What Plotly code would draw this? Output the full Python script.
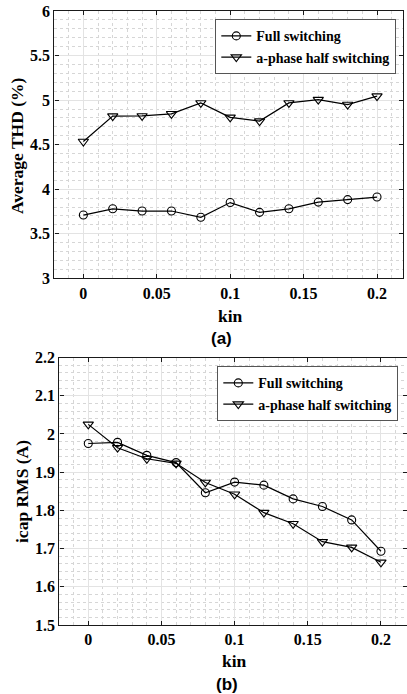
import plotly.graph_objects as go

# kin sweep
kin = [0, 0.02, 0.04, 0.06, 0.08, 0.10, 0.12, 0.14, 0.16, 0.18, 0.20]

# (a) average THD (%)
thd_full = [3.71, 3.78, 3.755, 3.755, 3.685, 3.85, 3.74, 3.78, 3.855, 3.883, 3.912]
thd_half = [4.535, 4.82, 4.822, 4.846, 4.968, 4.806, 4.764, 4.968, 5.005, 4.95, 5.045]

# (b) capacitor current RMS (A)
icap_full = [1.975, 1.978, 1.944, 1.925, 1.846, 1.874, 1.866, 1.830, 1.810, 1.775, 1.693]
icap_half = [2.025, 1.964, 1.935, 1.923, 1.873, 1.842, 1.794, 1.765, 1.718, 1.703, 1.664]

series_names = ["Full switching", "a-phase half switching"]

W, H = 407, 694
SERIF = "Liberation Serif"
SANS = "Liberation Sans"


def px_x(p):
    return p / W


def px_y(p):
    return 1 - p / H


fig = go.Figure()

line_style = dict(color="black", width=1.2)
circle = dict(symbol="circle-open", size=8, color="black", line=dict(width=1.1, color="black"))
tri = dict(symbol="triangle-down-open", size=9, color="black", line=dict(width=1.1, color="black"))

fig.add_trace(go.Scatter(x=kin, y=thd_full, mode="lines+markers", name=series_names[0],
                         line=line_style, marker=circle, xaxis="x", yaxis="y", legend="legend"))
fig.add_trace(go.Scatter(x=kin, y=thd_half, mode="lines+markers", name=series_names[1],
                         line=line_style, marker=tri, xaxis="x", yaxis="y", legend="legend"))
fig.add_trace(go.Scatter(x=kin, y=icap_full, mode="lines+markers", name=series_names[0],
                         line=line_style, marker=circle, xaxis="x2", yaxis="y2", legend="legend2"))
fig.add_trace(go.Scatter(x=kin, y=icap_half, mode="lines+markers", name=series_names[1],
                         line=line_style, marker=tri, xaxis="x2", yaxis="y2", legend="legend2"))

tickfont = dict(family=SERIF, size=16, color="black", weight="bold")
major_grid = "#e3e3e3"
minor_grid = "#d6d6d6"


def axis_common(rng, dtick, minor_dtick, tick0=0):
    return dict(
        range=rng, dtick=dtick, tick0=tick0,
        showline=True, linecolor="#1a1a1a", linewidth=1.4, mirror="ticks",
        ticks="inside", ticklen=4, tickwidth=1, tickcolor="#1a1a1a",
        showgrid=True, gridcolor=major_grid, gridwidth=1,
        minor=dict(dtick=minor_dtick, tick0=tick0, showgrid=True, gridcolor=minor_grid,
                   griddash="dot", gridwidth=1, ticks=""),
        zeroline=False, tickfont=tickfont, automargin=False,
    )


# panel geometry (pixels)
a_left, a_right, a_top, a_bot = 54.3, 403, 11, 278.3
b_left, b_right, b_top, b_bot = 59.3, 407, 357.5, 625

xa = axis_common([-0.0198, 0.2177], 0.05, 0.01)
xa.update(domain=[px_x(a_left), px_x(a_right)], anchor="y")
ya = axis_common([3, 6], 0.5, 0.1)
ya.update(domain=[px_y(a_bot), px_y(a_top)], anchor="x")

xb = axis_common([-0.0198, 0.2178], 0.05, 0.01)
xb.update(domain=[px_x(b_left), min(1.0, px_x(b_right))], anchor="y2")
yb = axis_common([1.5, 2.2], 0.1, 0.02, tick0=1.5)
yb.update(domain=[px_y(b_bot), px_y(b_top)], anchor="x2")

legend_style = dict(
    font=dict(family=SERIF, size=14, color="black", weight="bold"),
    bgcolor="white", bordercolor="#555", borderwidth=1.3,
    xanchor="right", yanchor="top", tracegroupgap=0, itemwidth=30,
)

title_font = dict(family=SERIF, size=17.5, color="black", weight="bold")
panel_font = dict(family=SANS, size=17, color="black", weight="bold")

annotations = [
    dict(text="kin", x=px_x(230), y=px_y(316), xref="paper", yref="paper",
         showarrow=False, font=title_font, xanchor="center", yanchor="middle"),
    dict(text="Average THD (%)", x=px_x(17), y=px_y(146), xref="paper", yref="paper",
         showarrow=False, font=title_font, textangle=-90, xanchor="center", yanchor="middle"),
    dict(text="(a)", x=px_x(222), y=px_y(338), xref="paper", yref="paper",
         showarrow=False, font=panel_font, xanchor="center", yanchor="middle"),
    dict(text="kin", x=px_x(235), y=px_y(661), xref="paper", yref="paper",
         showarrow=False, font=title_font, xanchor="center", yanchor="middle"),
    dict(text="icap RMS (A)", x=px_x(22), y=px_y(492), xref="paper", yref="paper",
         showarrow=False, font=title_font, textangle=-90, xanchor="center", yanchor="middle"),
    dict(text="(b)", x=px_x(227), y=px_y(684), xref="paper", yref="paper",
         showarrow=False, font=panel_font, xanchor="center", yanchor="middle"),
]

fig.update_layout(
    width=W, height=H,
    margin=dict(l=0, r=0, t=0, b=0),
    paper_bgcolor="white", plot_bgcolor="white",
    xaxis=xa, yaxis=ya, xaxis2=xb, yaxis2=yb,
    legend=dict(x=px_x(396), y=px_y(19), **legend_style),
    legend2=dict(x=px_x(398), y=px_y(366), **legend_style),
    annotations=annotations,
    showlegend=True,
)

fig.write_html("out.html")
